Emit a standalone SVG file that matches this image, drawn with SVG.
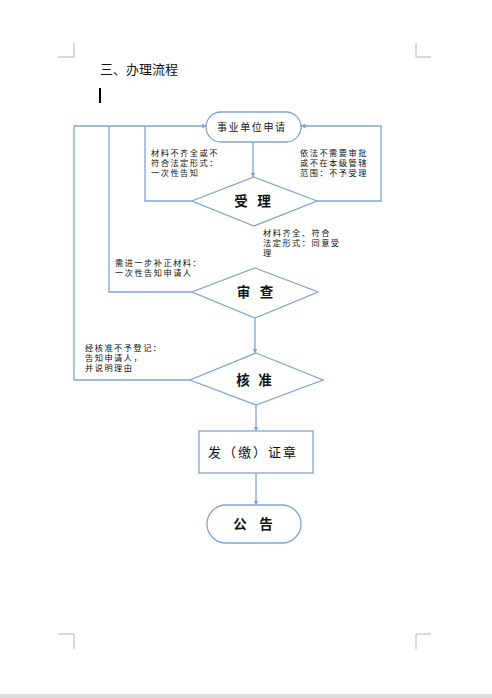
<svg xmlns="http://www.w3.org/2000/svg" width="492" height="698" viewBox="0 0 492 698">
<style>
.ln{fill:none;stroke:#7fa6d3;stroke-width:1.3}
.nd{fill:#fff;stroke:#7fa6d3;stroke-width:1.3}
.crn{fill:none;stroke:#b4b4b4;stroke-width:1}
.t{font-family:"Noto Sans CJK SC","Liberation Sans",sans-serif;fill:#111}
.lb{font-family:"Liberation Sans","Noto Sans CJK SC",sans-serif;font-size:8.2px;letter-spacing:1.5px}
.big{font-size:13.5px;font-weight:bold}
</style>
<defs>
<marker id="ah" viewBox="0 0 10 10" refX="9" refY="5" markerWidth="5" markerHeight="5" orient="auto" markerUnits="userSpaceOnUse">
<path d="M0,0 L10,5 L0,10 z" fill="#7fa6d3"/>
</marker>
</defs>
<rect x="0" y="0" width="492" height="698" fill="#fff"/>
<rect x="0" y="694" width="492" height="4" fill="#dcdcde"/>
<g id="corners">
<path class="crn" d="M58,57 H74 V43"/>
<path class="crn" d="M416,43 V57 H431"/>
<path class="crn" d="M58,634 H74 V649"/>
<path class="crn" d="M416,649 V634 H431"/>
</g>
<text class="t" x="100" y="74" font-size="13">三、办理流程</text>
<rect x="99" y="88" width="2" height="15" fill="#000"/>
<g id="connectors">
<path class="ln" d="M253,142 V177" marker-end="url(#ah)"/>
<path class="ln" d="M192,201 H145 V126 H206" marker-end="url(#ah)"/>
<path class="ln" d="M317,201 H381 V126 H301" marker-end="url(#ah)"/>
<path class="ln" d="M192,292 H109 V126"/>
<path class="ln" d="M190,380 H74 V126 H145"/>
<path class="ln" d="M255,318 V353" marker-end="url(#ah)"/>
<path class="ln" d="M256,405 V431" marker-end="url(#ah)"/>
<path class="ln" d="M256,473 V505" marker-end="url(#ah)"/>
</g>
<g id="n_apply">
<rect class="nd" x="206" y="112" width="95" height="30" rx="15"/>
<text class="t" x="217" y="130.5" font-size="10" letter-spacing="1.6">事业单位申请</text>
</g>
<g id="n_accept">
<polygon class="nd" points="254,177 317,201 254,226 192,201"/>
<text class="t big" x="241 264" y="206" text-anchor="middle">受理</text>
</g>
<g id="n_review">
<polygon class="nd" points="255,268 318,292 255,318 192,292"/>
<text class="t big" x="243.5 266.5" y="297" text-anchor="middle">审查</text>
</g>
<g id="n_approve">
<polygon class="nd" points="256,353 323,380 256,405 190,380"/>
<text class="t big" x="243 265" y="385" text-anchor="middle">核准</text>
</g>
<g id="n_issue">
<rect class="nd" x="199" y="431" width="114" height="42"/>
<text class="t" x="208" y="457" font-size="13" letter-spacing="2">发（缴）证章</text>
</g>
<g id="n_notice">
<rect class="nd" x="207" y="505" width="94" height="38" rx="19"/>
<text class="t big" x="240 266" y="529" text-anchor="middle">公告</text>
</g>
<g id="labels">
<text class="t lb" x="151" y="156">材料不齐全或不</text>
<text class="t lb" x="151" y="166">符合法定形式：</text>
<text class="t lb" x="151" y="176">一次性告知</text>
<text class="t lb" x="300" y="156">依法不需要审批</text>
<text class="t lb" x="300" y="166">或不在本级管辖</text>
<text class="t lb" x="300" y="176">范围：不予受理</text>
<text class="t lb" x="263" y="236">材料齐全、符合</text>
<text class="t lb" x="263" y="246">法定形式：同意受</text>
<text class="t lb" x="263" y="256">理</text>
<text class="t lb" x="115" y="266">需进一步补正材料：</text>
<text class="t lb" x="115" y="276">一次性告知申请人</text>
<text class="t lb" x="85" y="351">经核准不予登记：</text>
<text class="t lb" x="85" y="361">告知申请人，</text>
<text class="t lb" x="85" y="371">并说明理由</text>
</g>
</svg>
